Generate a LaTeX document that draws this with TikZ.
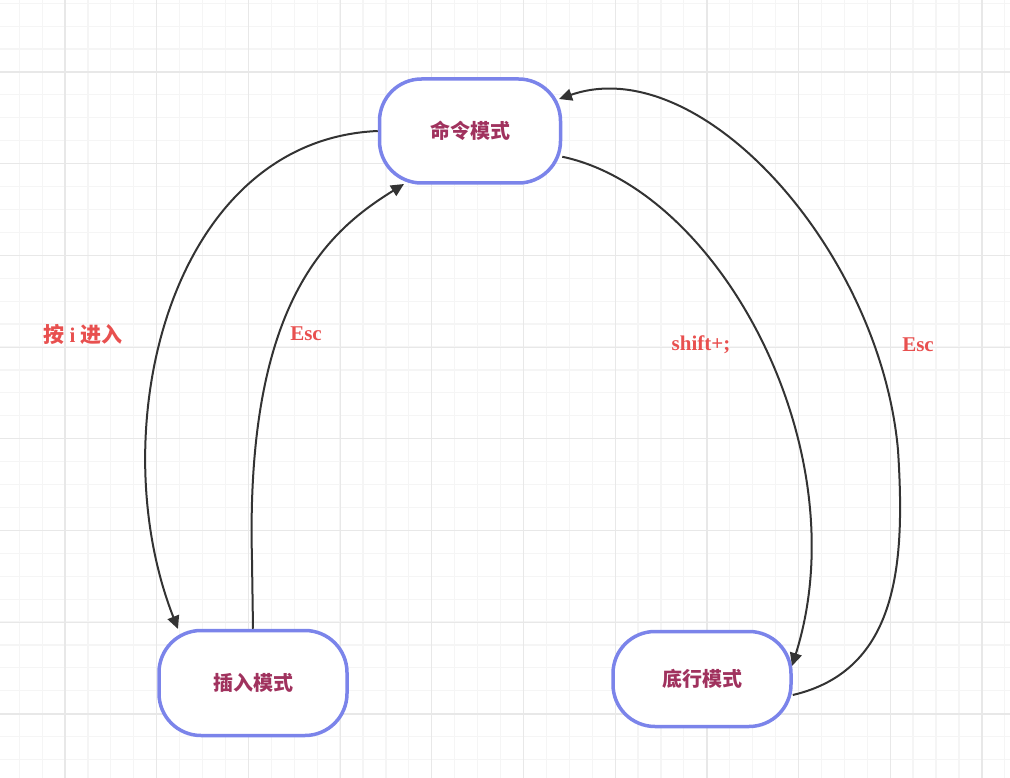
\documentclass[tikz,border=0pt]{standalone}
\usepackage{fontspec}
\setmainfont{Liberation Serif}
\newfontfamily\cjk{Noto Sans CJK SC}
\usetikzlibrary{arrows.meta}
\definecolor{boxblue}{HTML}{7B84EA}
\definecolor{boxtext}{HTML}{A0325E}
\definecolor{labred}{HTML}{E8504F}
\definecolor{gridminor}{HTML}{F5F5F5}
\definecolor{gridmajor}{HTML}{E8E8E8}
\tikzset{
    mode/.style = {draw=boxblue, line width=3.5pt, rounded corners=42pt, fill=white, align=center, inner sep=0pt, text=boxtext, font=\cjk\bfseries\fontsize{20}{24}\selectfont},
    lab/.style = {text=labred, font=\bfseries\fontsize{21}{24}\selectfont},
    flow/.style = {draw=black!80, line width=2pt, -{Triangle[length=13pt,width=12pt]}}
}
\begin{document}
\begin{tikzpicture}[x=1pt, y=-1pt]
    \useasboundingbox (0,0) rectangle (1010,778);
    % grid
    \foreach \i in {0,...,43} {
        \draw[gridminor, line width=1.2pt] (19.2+\i*22.92,0) -- (19.2+\i*22.92,778);
        \draw[gridminor, line width=1.2pt] (0,3.2+\i*22.92) -- (1010,3.2+\i*22.92);
    }
    \foreach \i in {0,...,10} {
        \draw[gridmajor, line width=1.2pt] (65+\i*91.7,0) -- (65+\i*91.7,778);
        \draw[gridmajor, line width=1.2pt] (0,72+\i*91.7) -- (1010,72+\i*91.7);
    }

    \node [mode, minimum width=181pt, minimum height=104pt] (cmd) at (470,131) {命令模式};
    \node [mode, minimum width=188pt, minimum height=105pt] (ins) at (253,683) {插入模式};
    \node [mode, minimum width=178pt, minimum height=95pt] (bot) at (702,679) {底行模式};

    \draw [flow] (cmd.west) .. controls (170,140) and (100,430) .. (178,629);
    \draw [flow] (ins.north) -- (252,560) .. controls (245,300) and (330,230) .. (404,184);
    \draw [flow] (cmd.south east) ++(0,-28) .. controls (720,190) and (860,450) .. (792,666);
    \draw [flow] (bot.east) ++(0,16) .. controls (900,670) and (905,560) .. (898,450)
        .. controls (880,250) and (700,50) .. (559,99);

    \node [lab] (l1) at (83,334) {{\cjk 按} i {\cjk 进入}};
    \node [lab] (l2) at (306,334) {Esc};
    \node [lab] (l3) at (701,345) {shift+;};
    \node [lab] (l4) at (918,345) {Esc};
\end{tikzpicture}
\end{document}
